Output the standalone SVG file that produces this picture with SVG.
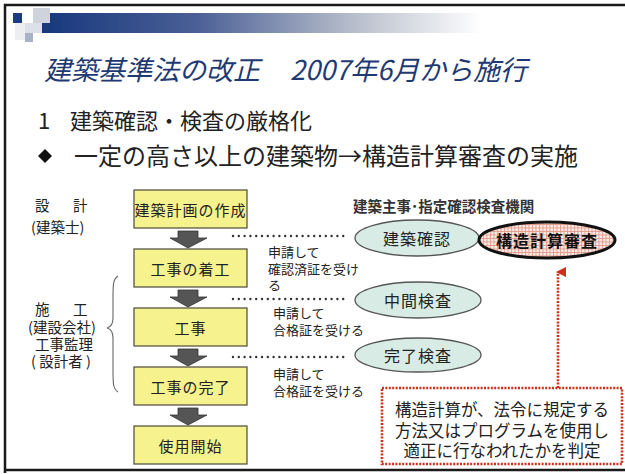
<svg xmlns="http://www.w3.org/2000/svg" width="625" height="474" viewBox="0 0 625 474">
<defs>
<linearGradient id="bar" x1="0" y1="0" x2="1" y2="0">
<stop offset="0" stop-color="#17387e"/>
<stop offset="0.35" stop-color="#4a5f95"/>
<stop offset="0.7" stop-color="#b5bcca"/>
<stop offset="1" stop-color="#ffffff"/>
</linearGradient>
<pattern id="check" width="3.5" height="3.5" patternUnits="userSpaceOnUse">
<rect width="3.5" height="3.5" fill="#f8ebe5"/>
<path d="M0 0.5H3.5M0.5 0V3.5" stroke="#e49a8a" stroke-width="0.9"/>
</pattern>
<marker id="redhead" viewBox="0 0 10 10" refX="5" refY="2" markerWidth="4" markerHeight="4" orient="auto-start-reverse" markerUnits="strokeWidth">
<path d="M0 10L5 0L10 10Z" fill="#c8321e"/>
</marker>
<style>
text{font-family:"Noto Sans CJK JP","Noto Sans",sans-serif;fill:#222}
.box{fill:#f6f28e;stroke:#4a4a3a;stroke-width:1.2}
.bt{font-size:15px;text-anchor:middle;dominant-baseline:central;letter-spacing:1px}
.arr{fill:#555;stroke:#333;stroke-width:0.8}
.dot{stroke:#333;stroke-width:2.4;stroke-linecap:round;stroke-dasharray:0 5.8;fill:none}
.lab{font-size:13px}
.ell{fill:#d8ece5;stroke:#555;stroke-width:1.3}
.et{font-size:16px;text-anchor:middle;dominant-baseline:central;letter-spacing:1px}
.side{font-size:14.5px}
.red{stroke:#c8321e;stroke-width:2.6;stroke-dasharray:2 1.4;fill:none}
</style>
</defs>
<rect width="625" height="474" fill="#ffffff"/>
<g id="frame">
<path d="M5 473V5H625" fill="none" stroke="#1a1a1a" stroke-width="2.5"/>
<path d="M5 470H625" stroke="#1a1a1a" stroke-width="2.5"/>
</g>
<g id="header">
<rect x="42" y="13" width="440" height="20" fill="url(#bar)"/>
<rect x="33" y="8" width="17" height="15" fill="#cfd3dc"/>
<rect x="15" y="23" width="12" height="17" fill="#eceef2"/>
<rect x="25" y="23" width="17" height="10" fill="#dde0e8"/>
<rect x="25" y="33" width="8" height="9" fill="#a9b2c8"/>
<rect x="13" y="13" width="9" height="10" fill="#1c3c80"/>
</g>
<g id="title">
<text x="44" y="80" font-size="27" font-style="italic" style="fill:#1f3a72">建築基準法の改正<tspan x="290">2007年6月から施行</tspan></text>
</g>
<g id="points">
<text x="38" y="129" font-size="22">1</text>
<text x="70" y="129" font-size="22">建築確認・検査の厳格化</text>
<path d="M45 149L52 156L45 163L38 156Z" fill="#111"/>
<text x="74" y="165" font-size="24">一定の高さ以上の建築物→構造計算審査の実施</text>
</g>
<g id="actors">
<text class="side" x="35" y="211">設<tspan x="73">計</tspan></text>
<text class="side" x="31" y="233">(建築士)</text>
<text class="side" x="35" y="315">施<tspan x="73">工</tspan></text>
<text class="side" x="28" y="333">(建設会社)</text>
<text class="side" x="35" y="350">工事監理</text>
<text class="side" x="31" y="367">( 設計者 )</text>
<path d="M118 276C113 279 113 285 113 298V318C113 324 111 327 107 328C111 329 113 332 113 338V370C113 383 113 389 118 392" fill="none" stroke="#666" stroke-width="1.1"/>
</g>
<g id="connectors">
<path class="arr" d="M178 231H198V238H207L188 248L170 238H178Z"/>
<path class="arr" d="M178 290H198V297H207L188 307L170 297H178Z"/>
<path class="arr" d="M178 349H198V356H207L188 366L170 356H178Z"/>
<path class="arr" d="M178 408H198V415H207L188 425L170 415H178Z"/>
<path class="dot" d="M233 236H347"/>
<path class="dot" d="M233 299H347"/>
<path class="dot" d="M233 357H347"/>
<path class="red" d="M558 388V272" marker-end="url(#redhead)"/>
</g>
<g id="n1"><rect class="box" x="134" y="190" width="113" height="38"/><text class="bt" x="190.5" y="209">建築計画の作成</text></g>
<g id="n2"><rect class="box" x="134" y="249" width="113" height="38"/><text class="bt" x="190.5" y="268">工事の着工</text></g>
<g id="n3"><rect class="box" x="134" y="308" width="113" height="38"/><text class="bt" x="190.5" y="327">工事</text></g>
<g id="n4"><rect class="box" x="134" y="367" width="113" height="38"/><text class="bt" x="190.5" y="386">工事の完了</text></g>
<g id="n5"><rect class="box" x="134" y="426" width="113" height="38"/><text class="bt" x="190.5" y="445">使用開始</text></g>
<g id="labels">
<text class="lab" x="268" y="257">申請して</text>
<text class="lab" x="268" y="274">確認済証を受け</text>
<text class="lab" x="268" y="290">る</text>
<text class="lab" x="273" y="318">申請して</text>
<text class="lab" x="273" y="335">合格証を受ける</text>
<text class="lab" x="273" y="379">申請して</text>
<text class="lab" x="273" y="396">合格証を受ける</text>
</g>
<g id="agency">
<text x="353" y="212" font-size="14.5" font-weight="bold" style="fill:#333">建築主事･指定確認検査機関</text>
</g>
<g id="e1"><ellipse class="ell" cx="417" cy="238" rx="62" ry="18"/><text class="et" x="417" y="238">建築確認</text></g>
<g id="e2"><ellipse cx="547" cy="240" rx="68" ry="18" fill="url(#check)" stroke="#111" stroke-width="3"/><text class="et" x="547" y="240" font-weight="bold" style="fill:#111">構造計算審査</text></g>
<g id="e3"><ellipse class="ell" cx="418" cy="300" rx="63" ry="18"/><text class="et" x="418" y="300">中間検査</text></g>
<g id="e4"><ellipse class="ell" cx="418" cy="355" rx="63" ry="17"/><text class="et" x="418" y="355">完了検査</text></g>
<g id="note">
<rect class="red" x="382" y="388" width="240" height="76" style="fill:#fff"/>
<text x="502" y="416" font-size="16.5" text-anchor="middle">構造計算が、法令に規定する</text>
<text x="502" y="436.5" font-size="16.5" text-anchor="middle">方法又はプログラムを使用し</text>
<text x="502" y="457" font-size="16.5" text-anchor="middle">適正に行なわれたかを判定</text>
</g>
</svg>
